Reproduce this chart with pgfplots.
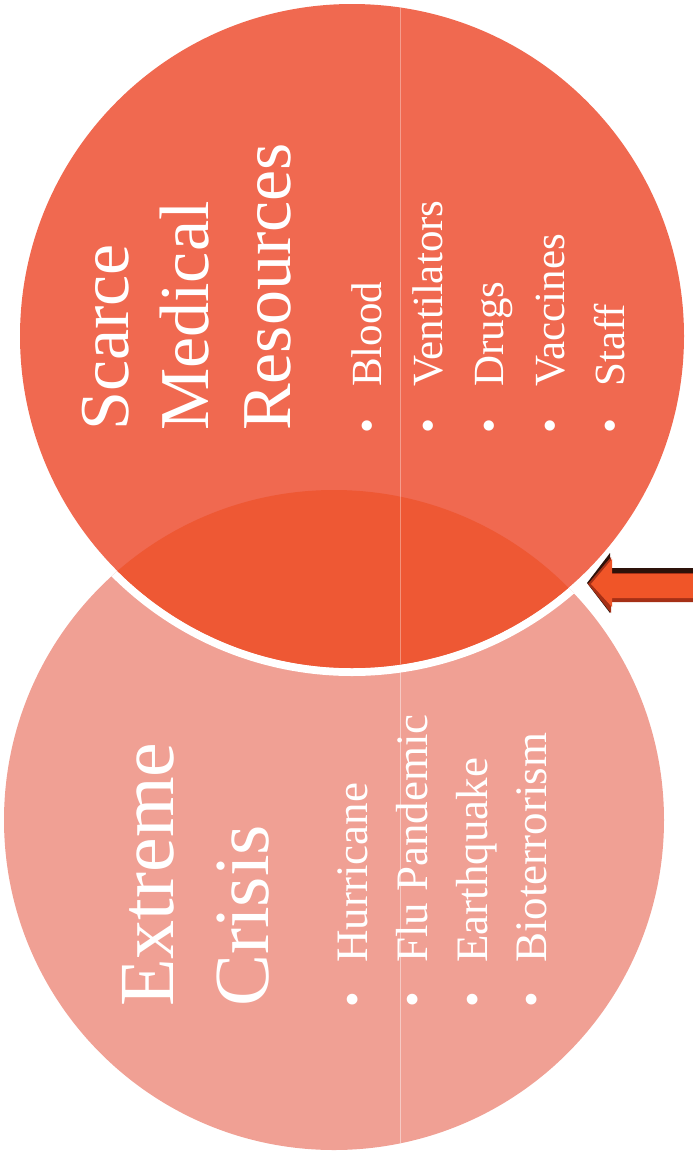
\documentclass[border=0pt]{standalone}
\usepackage{pgfplots}
\pgfplotsset{compat=1.18}
\usepackage{fontspec}
\setmainfont{Liberation Serif}
\definecolor{topc}{RGB}{240,105,80}
\definecolor{lapc}{RGB}{238,88,52}
\definecolor{lightc}{RGB}{240,160,148}
\definecolor{arrowc}{RGB}{240,85,40}
\definecolor{arrowdark}{RGB}{45,18,10}
\definecolor{arrowedge}{RGB}{165,48,22}
\newcommand\ttlA{\fontsize{70}{80}\selectfont}
\newcommand\ttlB{\fontsize{78}{90}\selectfont}
\newcommand\itA{\fontsize{43}{50}\selectfont}
\newcommand\itB{\fontsize{45}{52}\selectfont}
\begin{document}
\begin{tikzpicture}
\begin{axis}[width=693pt,height=1154pt,scale only axis,
  xmin=0,xmax=693,ymin=0,ymax=1154,y dir=reverse,
  hide axis,clip=false,no markers]
\path (axis cs:0,0) rectangle (axis cs:693,1154);
% lower (light) circle: Extreme Crisis
\fill[lightc] (axis cs:334,820) circle[radius=330];
\begin{scope}
\clip (axis cs:334,820) circle[radius=330];
\draw[white,opacity=0.45,line width=0.8pt] (axis cs:400,400) -- (axis cs:400,1154);
\fill[white,overlay] (axis cs:352,336) circle[radius=340];
\end{scope}
% upper circle: Scarce Medical Resources
\fill[topc] (axis cs:352,336) circle[radius=332];
\begin{scope}
\clip (axis cs:334,820) circle[radius=330];
\fill[lapc] (axis cs:352,336) circle[radius=332];
\end{scope}
\begin{scope}
\clip (axis cs:352,336) circle[radius=332];
\draw[white,opacity=0.35,line width=0.8pt] (axis cs:400,0) -- (axis cs:400,700);
\end{scope}
% arrow
\addplot[fill=arrowdark,draw=none] coordinates {(587,583) (610,553) (610,568) (693,568) (693,600) (610,600) (610,613) (587,583)};
\addplot[fill=arrowedge,draw=none] coordinates {(588,584) (611,557) (611,573) (693,573) (693,602) (611,602) (611,613) (588,584)};
\addplot[fill=arrowc,draw=none] coordinates {(591,584) (612,559) (612,574) (693,574) (693,598) (612,598) (612,607) (591,584)};
% titles
\node[white,rotate=90,anchor=base west,inner sep=0,font=\ttlA] at (axis cs:128,431) {Scarce};
\node[white,rotate=90,anchor=base west,inner sep=0,font=\ttlA] at (axis cs:208,431) {Medical};
\node[white,rotate=90,anchor=base west,inner sep=0,font=\ttlA] at (axis cs:290,431) {Resources};
\node[white,rotate=90,anchor=base west,inner sep=0,font=\ttlB] at (axis cs:173,1007) {Extreme};
\node[white,rotate=90,anchor=base west,inner sep=0,font=\ttlB] at (axis cs:268,1007) {Crisis};
% items upper
\foreach \xb/\t in {381/Blood,442/Ventilators,503/Drugs,564/Vaccines,624/Staff}{
  \edef\tmp{\noexpand\node[white,rotate=90,anchor=base west,inner sep=0,font=\noexpand\itA] at (axis cs:\xb,387) {\t};
  \noexpand\node[white,rotate=90,anchor=base west,inner sep=0,font=\noexpand\itA] at (axis cs:\xb,434) {\noexpand\textbullet};}
  \tmp
}
% items lower
\foreach \xb/\t in {367/Hurricane,427/Flu Pandemic,487/Earthquake,546/Bioterrorism}{
  \edef\tmp{\noexpand\node[white,rotate=90,anchor=base west,inner sep=0,font=\noexpand\itB] at (axis cs:\xb,963) {\t};
  \noexpand\node[white,rotate=90,anchor=base west,inner sep=0,font=\noexpand\itB] at (axis cs:\xb,1008) {\noexpand\textbullet};}
  \tmp
}
\end{axis}
\end{tikzpicture}
\end{document}
